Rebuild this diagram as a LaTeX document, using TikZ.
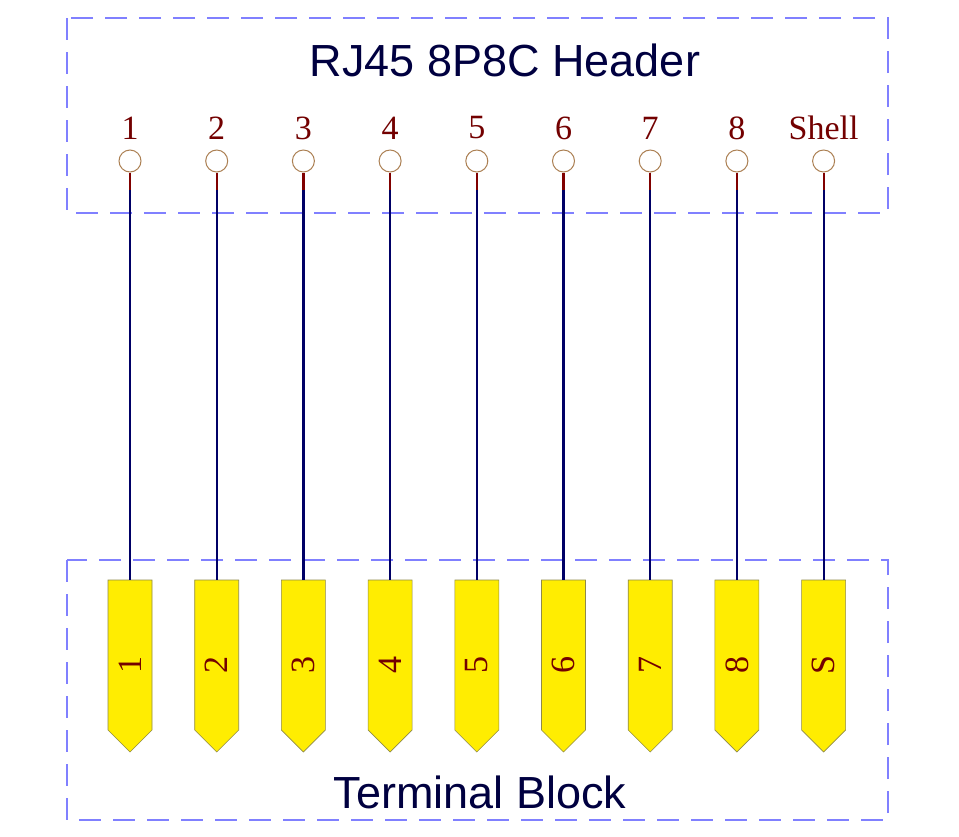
\documentclass[tikz,border=0pt]{standalone}
\usepackage{fontspec}
\setsansfont{Liberation Sans}
\setmainfont{Liberation Serif}
\begin{document}
\begin{tikzpicture}[x=1pt,y=-1pt,
  box/.style={draw=blue!50!white,dashed,dash pattern=on 22pt off 12pt,line width=1.2pt},
  pin/.style={circle,draw=brown!70!gray,line width=1pt,minimum size=22pt,inner sep=0pt},
  lbl/.style={text=red!45!black,font=\fontsize{34}{34}\selectfont},
  wire/.style={draw=blue!40!black,line width=2.2pt},
  stub/.style={draw=red!50!black,line width=2.2pt},
  term/.style={fill=yellow!95!orange,draw=yellow!50!black,line width=0.6pt}]
\useasboundingbox (0,0) rectangle (959,836);
\fill[white] (0,0) rectangle (959,836);
\draw[box] (67,18) rectangle (888,213);
\draw[box] (67,560) rectangle (888,820);
\node[font=\sffamily\fontsize{45}{45}\selectfont,text=blue!25!black] (hdr) at (505,60) {RJ45 8P8C Header};
\node[font=\sffamily\fontsize{45}{45}\selectfont,text=blue!25!black] (tb) at (480,792) {Terminal Block};
\foreach \i/\l/\t in {1/1/1,2/2/2,3/3/3,4/4/4,5/5/5,6/6/6,7/7/7,8/8/8,9/Shell/S}{
  \pgfmathsetmacro\x{130+(\i-1)*86.7}
  \node[lbl] (l\i) at (\x,128) {\l};
  \node[pin] (p\i) at (\x,161) {};
  \path[term] (\x-22,580) -- (\x+22,580) -- (\x+22,730) -- (\x,752) -- (\x-22,730) -- cycle;
  \coordinate (t\i) at (\x,580);
  \coordinate (s\i) at (\x,190);
  \node[lbl,rotate=90] (n\i) at (\x,665) {\t};
  \draw[wire] (s\i) -- (t\i);
  \draw[stub] (p\i.south) -- (s\i);
}
\end{tikzpicture}
\end{document}
